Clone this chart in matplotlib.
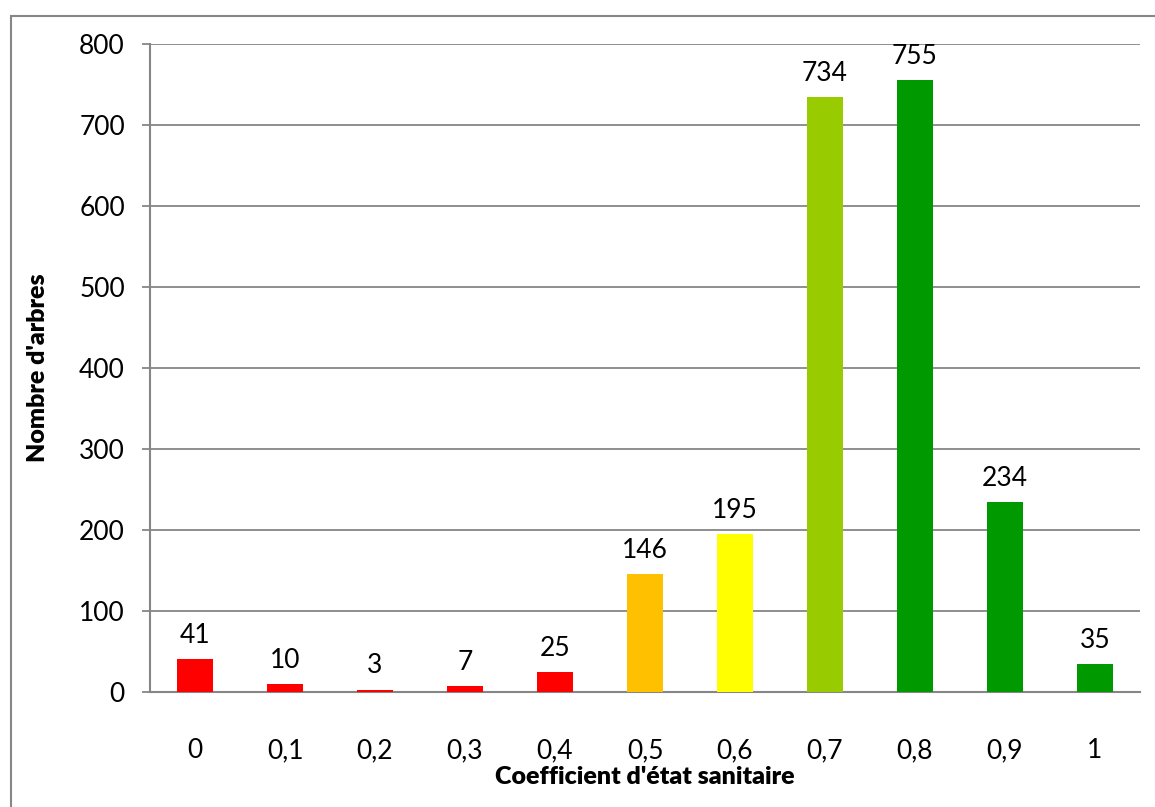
import matplotlib
matplotlib.use("Agg")
import matplotlib.pyplot as plt
from matplotlib.patches import Rectangle

plt.rcParams["font.family"] = ["Lato", "DejaVu Sans"]

# Tree counts per health coefficient class
categories = ["0", "0,1", "0,2", "0,3", "0,4", "0,5", "0,6", "0,7", "0,8", "0,9", "1"]
counts = [41, 10, 3, 7, 25, 146, 195, 734, 755, 234, 35]
bar_colors = ["#FF0000", "#FF0000", "#FF0000", "#FF0000", "#FF0000",
              "#FFC000", "#FFFF00", "#99CC00", "#009900", "#009900", "#009900"]

W, H = 1155, 807
fig = plt.figure(figsize=(W / 100, H / 100), dpi=100)
ax = fig.add_axes([150 / W, 1 - 692 / H, (1140 - 150) / W, (692 - 44) / H])

grey = "#868686"
xs = range(len(categories))
ax.bar(xs, counts, width=0.4, color=bar_colors, zorder=3)

for x, v in zip(xs, counts):
    ax.annotate(str(v), (x, v), xytext=(0, 8), textcoords="offset points",
                ha="center", va="bottom", fontsize=19, color="black")

ax.set_xlim(-0.5, len(categories) - 0.5)
ax.set_ylim(0, 800)
ax.set_yticks(range(0, 801, 100))
ax.set_xticks(list(xs))
ax.set_xticklabels(categories)
ax.yaxis.grid(True, color=grey, linewidth=1.3, zorder=0)
ax.set_axisbelow(True)

for side in ["top", "right"]:
    ax.spines[side].set_visible(False)
for side in ["left", "bottom"]:
    ax.spines[side].set_color(grey)
    ax.spines[side].set_linewidth(1.5)

ax.tick_params(axis="y", length=6, width=1.3, color=grey, labelsize=19, pad=12)
ax.tick_params(axis="x", length=0, labelsize=19, pad=33)

ax.set_xlabel("Coefficient d'état sanitaire", fontsize=18, fontweight="heavy", labelpad=2)
ax.set_ylabel("Nombre d'arbres", fontsize=18, fontweight="heavy", labelpad=22)

# chart frame running off the right and bottom edges
fig.patches.append(Rectangle((11 / W, -0.1), 1.2, 1 - 16 / H + 0.1,
                             transform=fig.transFigure, fill=False,
                             edgecolor=grey, linewidth=1.5))

fig.savefig("out.png", dpi=100)
